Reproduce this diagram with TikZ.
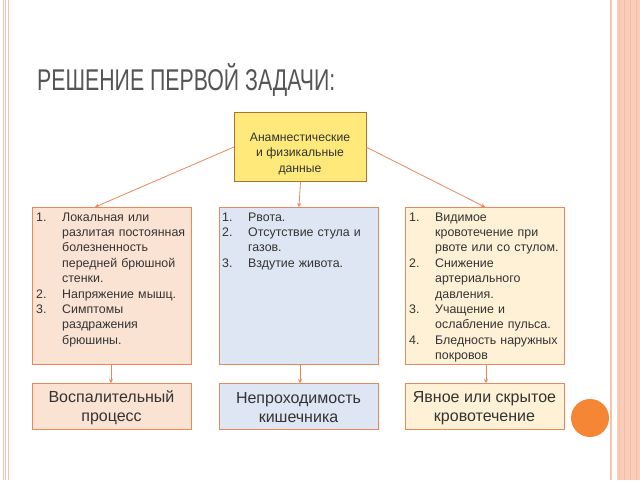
\documentclass[tikz,border=0pt]{standalone}
\usepackage{fontspec}
\setmainfont{Liberation Sans}
\newfontfamily\titlefont[FakeStretch=0.71]{Liberation Sans}
\usetikzlibrary{arrows.meta}
\definecolor{edgeor}{HTML}{E9895A}
\definecolor{topfill}{HTML}{FFE97A}
\definecolor{topedge}{HTML}{A8742E}
\definecolor{lfill}{HTML}{FBE3D4}
\definecolor{mfill}{HTML}{DEE6F3}
\definecolor{rfill}{HTML}{FEF1D6}
\definecolor{txt}{HTML}{333333}
\definecolor{titlec}{HTML}{555555}
\definecolor{stripe}{HTML}{F6C3AE}
\definecolor{stripeb}{HTML}{F9CDBA}
\definecolor{dot}{HTML}{F58634}
\newcommand{\litem}[2]{\par\noindent\hangindent=26pt\hangafter=1\makebox[26pt][l]{#1}#2\par}
\tikzset{
  listbox/.style={draw=edgeor, line width=0.9pt, minimum width=159pt, minimum height=157pt, anchor=north west, inner sep=0pt},
  listtext/.style={anchor=north west, text width=154pt, align=left, font=\fontsize{12.4}{15.4}\selectfont, text=txt, inner sep=0pt},
  resbox/.style={draw=edgeor, line width=0.9pt, minimum width=159pt, minimum height=46pt, anchor=north west, inner sep=0pt},
  restext/.style={align=center, font=\fontsize{16}{19}\selectfont, text=txt, inner sep=0pt},
  conn/.style={draw=edgeor, line width=0.8pt, -{Stealth[length=4pt,width=4pt]}}
}
\begin{document}
\begin{tikzpicture}[x=1pt,y=-1pt]
\useasboundingbox (0,0) rectangle (640,480);
\fill[white] (0,0) rectangle (640,480);
% side decorations
\foreach \xx in {3,5.5,8} {\draw[stripe, line width=0.8pt] (\xx,0) -- (\xx,480);}
\draw[stripe, line width=1.5pt] (611,0) -- (611,480);
\fill[stripeb] (617,0) rectangle (640,480);
\foreach \xx in {619,624,630,636} {\draw[stripe!90!orange, line width=0.6pt] (\xx,0) -- (\xx,480);}
% title
\node[anchor=base west, inner sep=0pt, text=titlec, font=\titlefont\fontsize{30}{31}\selectfont] (title) at (37,90) {РЕШЕНИЕ ПЕРВОЙ ЗАДАЧИ:};
% top box
\node[draw=topedge, fill=topfill, line width=1pt, minimum width=132pt, minimum height=69pt, anchor=north west, inner sep=0pt] (top) at (234,112) {};
\node[align=center, font=\fontsize{12.2}{15.3}\selectfont, text=txt, inner sep=0pt] (toptext) at (300,154) {Анамнестические\\и физикальные\\данные};
% list boxes
\node[listbox, fill=lfill] (L) at (32,207) {};
\node[listbox, fill=mfill] (M) at (219,207) {};
\node[listbox, fill=rfill] (R) at (405,207) {};
\node[listtext] (Lt) at (36,205.5) {\litem{1.}{Локальная или разлитая постоянная болезненность передней брюшной стенки.}\litem{2.}{Напряжение мышц.}\litem{3.}{Симптомы раздражения брюшины.}};
\node[listtext] (Mt) at (222,205.5) {\litem{1.}{Рвота.}\litem{2.}{Отсутствие стула и газов.}\litem{3.}{Вздутие живота.}};
\node[listtext] (Rt) at (409,205.5) {\litem{1.}{Видимое кровотечение при рвоте или со стулом.}\litem{2.}{Снижение артериального давления.}\litem{3.}{Учащение и ослабление пульса.}\litem{4.}{Бледность наружных покровов}};
% result boxes
\node[resbox, fill=lfill] (Lr) at (32,383) {};
\node[resbox, fill=mfill] (Mr) at (219,383) {};
\node[resbox, fill=rfill] (Rr) at (405,383) {};
\node[restext] (Lrt) at (111.5,408) {Воспалительный\\процесс};
\node[restext] (Mrt) at (298.5,408) {Непроходимость\\кишечника};
\node[restext] (Rrt) at (484.5,408) {Явное или скрытое\\кровотечение};
% connectors
\coordinate (tl) at (234,147);
\coordinate (tr) at (366,147);
\draw[conn] (tl) -- (L.north -| 95,0);
\draw[conn] (tr) -- (R.north -| 485,0);
\draw[conn] (top.south) -- (M.north);
\draw[conn] (L.south -| 111,0) -- (Lr.north -| 111,0);
\draw[conn] (M.south -| 300,0) -- (Mr.north -| 300,0);
\draw[conn] (R.south -| 486,0) -- (Rr.north -| 486,0);
% circle
\fill[dot] (590,418) circle (19);
\end{tikzpicture}
\end{document}
